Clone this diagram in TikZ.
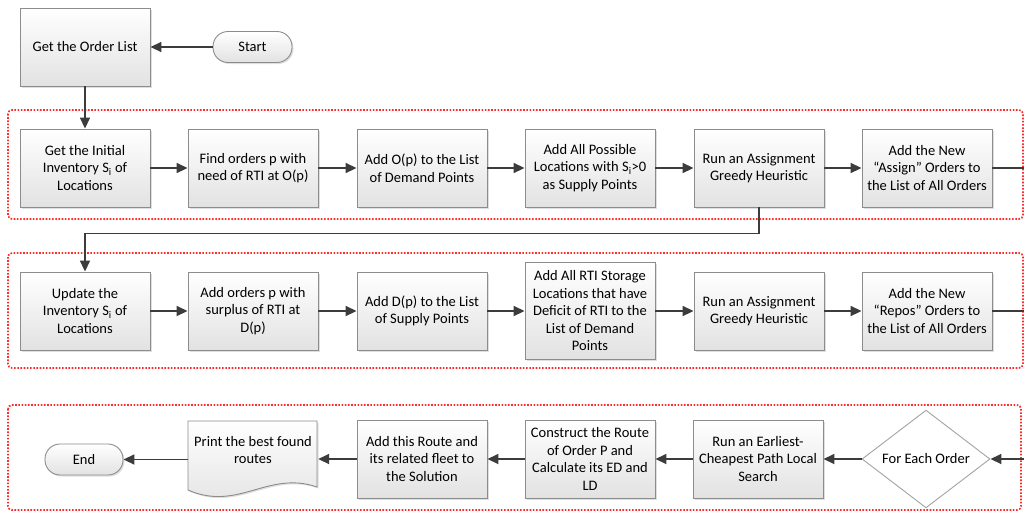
\documentclass[tikz,border=0pt]{standalone}
\usepackage{fontspec}
\setmainfont{Carlito}
\usetikzlibrary{arrows.meta,shapes.geometric,shadows,calc}
\definecolor{linec}{HTML}{3C3C3C}
\definecolor{boxgray}{HTML}{8C8C8C}
\definecolor{boxfill}{HTML}{E2E2E2}
\definecolor{dotred}{HTML}{FF2A2A}
\tikzset{
  txt/.style={font=\fontsize{14.5}{17.5}\selectfont},
  box/.style={draw=boxgray, line width=0.9pt, top color=white, bottom color=boxfill,
    minimum width=130pt, minimum height=78pt, align=center, inner sep=1pt, txt,
    drop shadow={opacity=0.25, shadow xshift=1.5pt, shadow yshift=-1.5pt}},
  term/.style={draw=boxgray, line width=0.9pt, top color=white, bottom color=boxfill,
    minimum width=79pt, minimum height=31pt, rounded corners=15pt, inner sep=1pt, txt,
    drop shadow={opacity=0.25, shadow xshift=1.5pt, shadow yshift=-1.5pt}},
  dec/.style={diamond, draw=boxgray!80, line width=0.9pt, fill=white, minimum width=128pt,
    minimum height=77pt, inner sep=0pt, txt},
  plain/.style={align=center, inner sep=1pt, minimum width=130pt, txt},
  arr/.style={draw=linec, line width=1.7pt, -{Triangle[length=11pt,width=10pt]}},
  ln/.style={draw=linec, line width=1.7pt},
  reddot/.style={draw=dotred, line width=1.7pt, dash pattern=on 1.6pt off 1.6pt, rounded corners=4pt},
}
\begin{document}
\begin{tikzpicture}[x=1pt,y=-1pt]
\useasboundingbox (0,0) rectangle (1024,512);
% red dotted groups
\draw[reddot] (8,110) rectangle (1023,219);
\draw[reddot] (8,253) rectangle (1023,368);
\draw[reddot] (8,405) rectangle (1021,510);

% top
\node[box] (order) at (85,47) {Get the Order List};
\node[term] (start) at (252.5,47) {Start};

% row 1
\node[box] (a1) at (85,168) {Get the Initial\\Inventory S\textsubscript{i} of\\Locations};
\node[box] (a2) at (253,168) {Find orders p with\\need of RTI at O(p)};
\node[box] (a3) at (422,168) {Add O(p) to the List\\of Demand Points};
\node[box] (a4) at (590,168) {Add All Possible\\Locations with S\textsubscript{i}>0\\as Supply Points};
\node[box] (a5) at (759,168) {Run an Assignment\\Greedy Heuristic};
\node[box] (a6) at (927,168) {Add the New\\“Assign” Orders to\\the List of All Orders};
\coordinate (a7) at (1024,168);

% row 2
\node[box] (b1) at (85,311) {Update the\\Inventory S\textsubscript{i} of\\Locations};
\node[box] (b2) at (253,311) {Add orders p with\\surplus of RTI at\\D(p)};
\node[box] (b3) at (422,311) {Add D(p) to the List\\of Supply Points};
\node[box, minimum height=97pt] (b4) at (590,311) {Add All RTI Storage\\Locations that have\\Deficit of RTI to the\\List of Demand\\Points};
\node[box] (b5) at (759,311) {Run an Assignment\\Greedy Heuristic};
\node[box] (b6) at (927,311) {Add the New\\“Repos” Orders to\\the List of All Orders};
\coordinate (b7) at (1024,311);

% row 3
\coordinate (c7) at (1024,459);
\node[dec] (c6) at (926,459) {For Each Order};
\node[box] (c5) at (758,459) {Run an Earliest-\\Cheapest Path Local\\Search};
\node[box] (c4) at (590,459) {Construct the Route\\of Order P and\\Calculate its ED and\\LD};
\node[box] (c3) at (422,459) {Add this Route and\\its related fleet to\\the Solution};
% document shape
\path[draw=boxgray, line width=0.9pt, top color=white, bottom color=boxfill,
  drop shadow={opacity=0.25, shadow xshift=1.5pt, shadow yshift=-1.5pt}]
  (188,421) -- (317,421) -- (317,487)
  .. controls (268,470) and (238,512) .. (188,490) -- cycle;
\node[plain] (c2) at (253,450) {Print the best found\\routes};
\node[term, minimum width=78pt] (c1) at (84,459.5) {End};

% connectors
\draw[arr] (start) -- (order);
\draw[arr] (order) -- (a1);
\draw[arr] (a1) -- (a2);
\draw[arr] (a2) -- (a3);
\draw[arr] (a3) -- (a4);
\draw[arr] (a4) -- (a5);
\draw[arr] (a5) -- (a6);
\draw[ln] (a6) -- (a7);
\draw[arr] (a5.south) -- ++(0,26) -| (b1.north);
\draw[arr] (b1) -- (b2);
\draw[arr] (b2) -- (b3);
\draw[arr] (b3) -- (b4);
\draw[arr] (b4) -- (b5);
\draw[arr] (b5) -- (b6);
\draw[ln] (b6) -- (b7);
\draw[arr] (c7) -- (c6);
\draw[arr] (c6) -- (c5);
\draw[arr] (c5) -- (c4);
\draw[arr] (c4) -- (c3);
\draw[arr] (c3.west) -- (c3.west -| c2.east);
\draw[arr] (c2.west |- c1) -- (c1.east);
\end{tikzpicture}
\end{document}
